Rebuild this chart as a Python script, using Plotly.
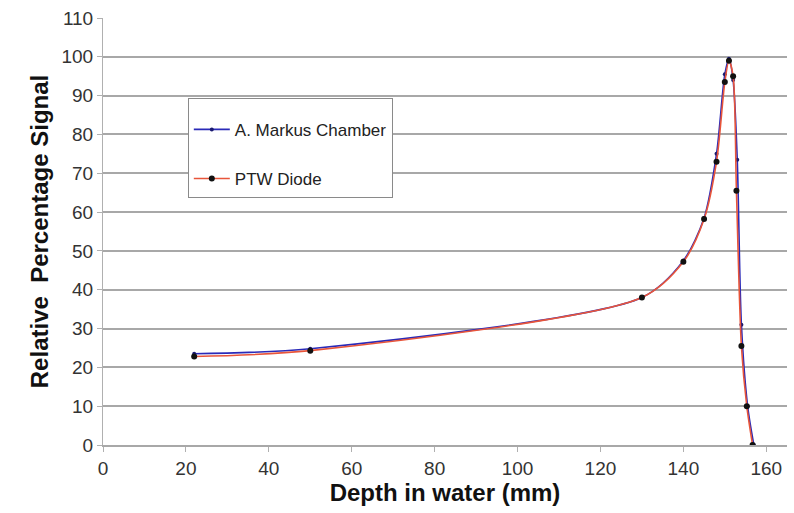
import plotly.graph_objects as go

# Depth-dose measurements (depth in mm, relative signal in %)
markus_depth = [22, 50, 130, 140, 145, 148, 150, 151, 152, 153, 154, 155.5, 157]
markus_signal = [23.5, 24.8, 38.0, 47.5, 58.5, 75.0, 95.5, 99.5, 94.0, 73.5, 31.0, 10.0, 0.0]

diode_depth = [22, 50, 130, 140, 145, 148, 150, 151, 152, 152.8, 154, 155.3, 156.7]
diode_signal = [22.8, 24.3, 38.0, 47.2, 58.2, 73.0, 93.5, 99.0, 95.0, 65.5, 25.5, 10.0, 0.0]

x_ticks = [0, 20, 40, 60, 80, 100, 120, 140, 160]
y_ticks = [0, 10, 20, 30, 40, 50, 60, 70, 80, 90, 100, 110]

fig = go.Figure()
fig.add_trace(go.Scatter(
    x=markus_depth, y=markus_signal, name="A. Markus Chamber",
    mode="lines+markers", line=dict(color="#2a2ab8", width=1.6, shape="spline", smoothing=0.8),
    marker=dict(color="#1a1a70", size=4), legendgroup="a",
))
fig.add_trace(go.Scatter(
    x=diode_depth, y=diode_signal, name="PTW Diode",
    mode="lines+markers", line=dict(color="#e8553a", width=1.6, shape="spline", smoothing=0.8),
    marker=dict(color="#111111", size=6), legendgroup="b",
))

sans = "Liberation Sans, Arial, sans-serif"
axis_font = dict(family=sans, size=19, color="#333333")
title_font = dict(family=sans, size=24, color="#111111")

fig.update_layout(
    width=794, height=513,
    margin=dict(l=103, r=7, t=18, b=68),
    paper_bgcolor="white", plot_bgcolor="white",
    showlegend=True,
    legend=dict(
        x=0.124, y=0.813, xanchor="left", yanchor="top",
        bordercolor="#8a8a8a", borderwidth=1, bgcolor="white",
        font=dict(family=sans, size=17, color="#222222"),
        title=dict(text="\u00a0", font=dict(size=10)),
        traceorder="grouped", tracegroupgap=24, itemwidth=36,
    ),
    xaxis=dict(
        range=[0, 165], tickvals=x_ticks, ticks="outside", ticklen=5, tickcolor="#b0b0b0",
        showgrid=False, showline=True, linecolor="#a8a8a8", linewidth=1.5,
        tickfont=axis_font, zeroline=False,
        title=dict(text="<b>Depth in water (mm)</b>", font=title_font, standoff=4),
    ),
    yaxis=dict(
        range=[0, 110], tickvals=y_ticks, ticks="outside", ticklen=5, tickcolor="#b0b0b0",
        showgrid=True, gridcolor="#a8a8a8", gridwidth=1.5,
        showline=True, linecolor="#b0b0b0", linewidth=1,
        tickfont=axis_font, zeroline=False,
        title=dict(text="<b>Relative\u00a0 Percentage Signal</b>", font=title_font, standoff=6),
    ),
)

fig.write_html("out.html")
